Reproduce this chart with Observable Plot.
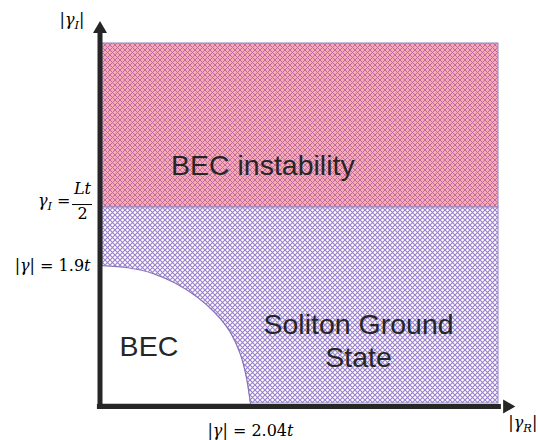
<!DOCTYPE html>
<html><head><meta charset="utf-8">
<script src="https://cdn.jsdelivr.net/npm/d3@7"></script>
<script src="https://cdn.jsdelivr.net/npm/@observablehq/plot@0.6"></script>
<style>body{margin:0;background:#fff}</style>
</head><body><div id="chart"></div>
<script>
// Phase diagram, axes in units of t
const xMax = 5.46;            // right edge of drawn region (|γ_R|)
const yMax = 4.96;            // top edge of drawn region (|γ_I|)
const instabilityLevel = 2.70; // γ_I = Lt/2
const becRadiusY = 1.9;       // |γ| = 1.9t
const becRadiusX = 2.04;      // |γ| = 2.04t
const xArrowTip = 5.72;
const yArrowTip = 5.30;
const fractionBar = [-0.414, -0.138];

// BEC region boundary
const becBoundaryX = [0, 0.35, 0.7, 1.0, 1.3, 1.55, 1.75, 1.9, 1.98, 2.04];
const becBoundaryY = [1.90, 1.87, 1.79, 1.66, 1.47, 1.25, 1.0, 0.68, 0.38, 0];

const regionNames = ["BEC instability", "Soliton Ground\nState", "BEC"];
const regionLabelX = [2.21, 3.53, 0.64];
const regionLabelY = [3.30, 0.88, 0.80];

const bec = becBoundaryX.map((x, i) => ({x, y: becBoundaryY[i]}));
const regionLabels = regionNames.map((text, i) => ({text, x: regionLabelX[i], y: regionLabelY[i]}));

const defs = () => {
  const g = d3.create("svg:defs");
  const mk = (id, bg, line, w) => {
    const p = g.append("pattern").attr("id", id).attr("patternUnits", "userSpaceOnUse")
      .attr("width", 5).attr("height", 5);
    p.append("rect").attr("width", 5).attr("height", 5).attr("fill", bg);
    p.append("path").attr("d", "M-1,-1L6,6M6,-1L-1,6").attr("stroke", line).attr("stroke-width", w).attr("fill", "none");
  };
  mk("hatchPink", "#f9a9b6", "#bd6c9e", 1);
  mk("hatchPurple", "#ffffff", "#9a80cc", 1.15);
  return g.node();
};

const axisColor = "#262626";
const serif = "DejaVu Serif, serif";
const sans = "Liberation Sans, Arial, sans-serif";
const mathSize = 16;

const mathText = (label, opts) => Plot.text([label], {text: d => d, fontSize: mathSize, fontFamily: serif, fill: "#000", className: "math", ...opts});

const plot = Plot.plot({
  width: 538,
  height: 440,
  marginLeft: 102,
  marginRight: 40,
  marginTop: 43,
  marginBottom: 37,
  x: {domain: [0, xMax], axis: null},
  y: {domain: [0, yMax], axis: null},
  marks: [
    defs,
    Plot.rect([{y1: instabilityLevel, y2: yMax}], {x1: 0, x2: xMax, y1: "y1", y2: "y2", fill: "url(#hatchPink)", stroke: "#8f86c4", strokeWidth: 1}),
    Plot.rect([{y1: 0, y2: instabilityLevel}], {x1: 0, x2: xMax, y1: "y1", y2: "y2", fill: "url(#hatchPurple)", stroke: "#8f86c4", strokeWidth: 1}),
    Plot.areaY(bec, {x: "x", y: "y", fill: "white", curve: "catmull-rom"}),
    Plot.line(bec, {x: "x", y: "y", stroke: "#8a72bb", strokeWidth: 1.2, curve: "catmull-rom"}),
    // axes
    Plot.ruleX([0], {y1: -0.083, y2: 5.1, stroke: axisColor, strokeWidth: 5, dx: -2.5}),
    Plot.ruleY([0], {x1: -0.07, x2: 5.5, stroke: axisColor, strokeWidth: 5, dy: 3}),
    Plot.dot([{x: 0, y: 5.16}], {x: "x", y: "y", symbol: "triangle2", r: 6.7, fill: axisColor, dx: -2.5}),
    Plot.dot([{x: 5.58, y: 0}], {x: "x", y: "y", symbol: "triangle2", r: 6.7, fill: axisColor, dy: 3, rotate: 90}),
    // region labels
    Plot.text(regionLabels, {x: "x", y: "y", text: "text", fontSize: 28.5, fontFamily: sans, fill: "#262626", lineHeight: 1.16}),
    // math labels
    mathText("|γ_I|", {x: 0, y: yArrowTip, textAnchor: "end", dx: -18, dy: 1}),
    mathText("|γ_R|", {x: xArrowTip, y: 0, textAnchor: "start", dx: -9, dy: 19}),
    mathText("|γ| = 1.9t", {x: 0, y: becRadiusY, textAnchor: "end", dx: -12}),
    mathText("|γ| = 2.04t", {x: becRadiusX, y: 0, textAnchor: "middle", dy: 27}),
    mathText("γ_I =", {x: 0, y: instabilityLevel, textAnchor: "end", dx: -32, dy: -7}),
    mathText("Lt", {x: 0, y: instabilityLevel, textAnchor: "middle", dx: -20, dy: -19}),
    mathText("2", {x: 0, y: instabilityLevel, textAnchor: "middle", dx: -20, dy: 6}),
    Plot.ruleY([instabilityLevel], {x1: fractionBar[0], x2: fractionBar[1], dy: -3, stroke: "#000", strokeWidth: 1})
  ]
});

// style math text: italic variables, subscripts
const italicChars = new Set(["γ", "t", "L", "I", "R"]);
d3.select(plot).selectAll("g.math text").each(function() {
  const s = this.textContent;
  const el = d3.select(this);
  el.text(null);
  let i = 0, pending = 0;
  while (i < s.length) {
    const c = s[i];
    if (c === "_") {
      el.append("tspan").attr("dy", 4).attr("font-size", 11.5).attr("font-style", "italic").text(s[i + 1]);
      pending = -4;
      i += 2;
      continue;
    }
    const t = el.append("tspan").attr("font-style", italicChars.has(c) ? "italic" : "normal").text(c === " " ? "\u00a0" : c);
    if (pending) { t.attr("dy", pending); pending = 0; }
    i++;
  }
});

document.getElementById("chart").append(plot);
</script>
</body></html>
